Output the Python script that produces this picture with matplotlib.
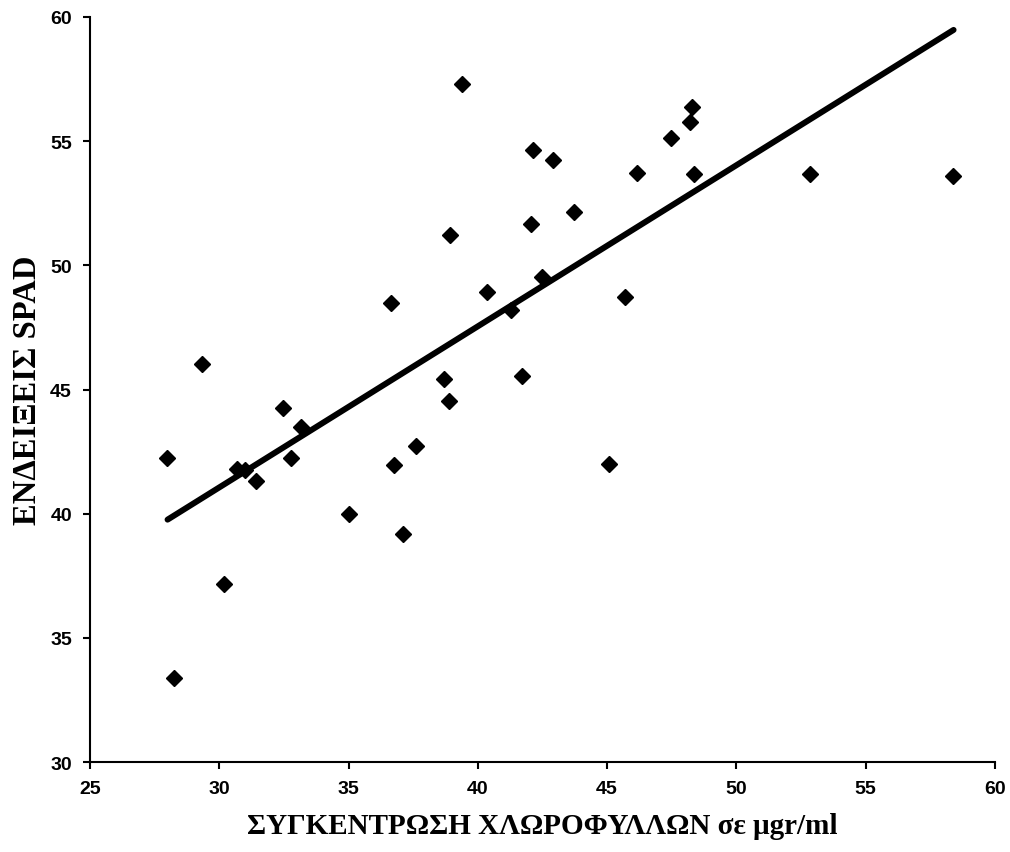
import numpy as np
import matplotlib
matplotlib.use("Agg")
import matplotlib.pyplot as plt

# chlorophyll concentration (ugr/ml) vs SPAD readings
CHLOROPHYLL = [27.96, 28.24, 29.34, 30.19, 30.67, 30.99, 31.41, 32.45, 32.77, 33.16,
               35.03, 36.64, 36.77, 37.12, 37.59, 38.69, 38.89, 38.91, 39.37, 40.37,
               41.30, 41.69, 42.04, 42.14, 42.47, 42.92, 43.73, 45.07, 45.69, 46.14,
               47.49, 48.20, 48.29, 48.37, 52.84, 58.39]
SPAD = [42.23, 33.37, 46.03, 37.16, 41.80, 41.77, 41.33, 44.24, 42.24, 43.48,
        39.98, 48.49, 41.96, 39.19, 42.74, 45.41, 44.54, 51.24, 57.31, 48.94,
        48.22, 45.55, 51.65, 54.65, 49.52, 54.24, 52.14, 41.99, 48.74, 53.71,
        55.12, 55.79, 56.39, 53.68, 53.68, 53.59]
# trend line as drawn (ends at min/max x)
TREND_X = [28.0, 58.4]
TREND_Y = [39.76, 59.48]

XTICKS = [25, 30, 35, 40, 45, 50, 55, 60]
YTICKS = [30, 35, 40, 45, 50, 55, 60]

fig = plt.figure(figsize=(10.1, 8.53), dpi=100)
ax = fig.add_axes([0.0891, 0.1055, 0.8960, 0.8734])

ax.plot(TREND_X, TREND_Y, color='black', linewidth=4.3, solid_capstyle='round', zorder=2)
ax.plot(CHLOROPHYLL, SPAD, linestyle='none', marker='D', markersize=8.5,
        color='black', zorder=3)

ax.set_xlim(25, 60)
ax.set_ylim(30, 60)
ax.set_xticks(XTICKS)
ax.set_yticks(YTICKS)

tick_font = dict(family='Liberation Sans', weight='bold', size=14)
ax.set_xticklabels([str(t) for t in XTICKS], fontdict=tick_font)
ax.set_yticklabels([str(t) for t in YTICKS], fontdict=tick_font)

for side in ['top', 'right']:
    ax.spines[side].set_visible(False)
for side in ['left', 'bottom']:
    ax.spines[side].set_linewidth(1.5)
ax.tick_params(axis='both', direction='out', length=5, width=1.5, pad=8)

ax.set_xlabel('ΣΥΓΚΕΝΤΡΩΣΗ ΧΛΩΡΟΦΥΛΛΩΝ σε μgr/ml',
              fontdict=dict(family='Liberation Serif', weight='bold', size=21), labelpad=11)
ax.set_ylabel('ΕΝΔΕΙΞΕΙΣ SPAD',
              fontdict=dict(family='Liberation Serif', weight='bold', size=23.5), labelpad=5)

fig.savefig('out.png', dpi=100)
